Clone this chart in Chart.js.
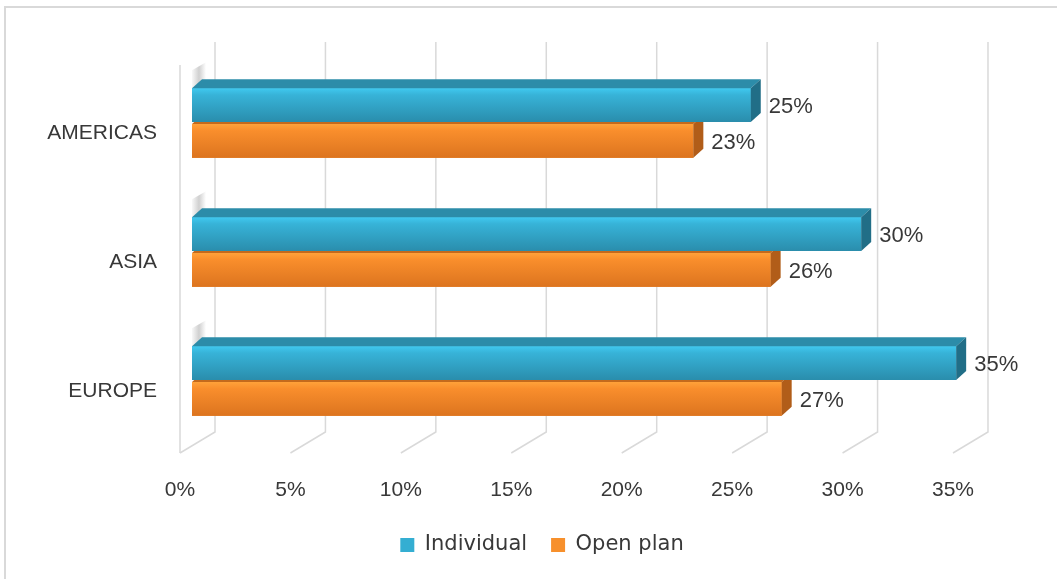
<!DOCTYPE html>
<html>
<head>
<meta charset="utf-8">
<script src="https://cdn.jsdelivr.net/npm/chart.js@4/dist/chart.umd.min.js"></script>
<style>
  html, body { margin: 0; padding: 0; background: #fff; }
  #wrap { width: 1057px; height: 579px; }
</style>
</head>
<body>
<div id="wrap"><canvas id="barChart" width="1057" height="579"></canvas></div>
<script>
const regions = ['AMERICAS', 'ASIA', 'EUROPE'];
const individual = [0.253, 0.303, 0.346];
const openPlan = [0.227, 0.262, 0.267];
const seriesNames = ['Individual', 'Open plan'];
const xTicks = [0, 0.05, 0.1, 0.15, 0.2, 0.25, 0.3, 0.35];

const textColor = '#383838';
const faces = [
  { front: ['#40c9f0', '#37b3d8', '#2a8dac'], top: '#2c8ca9', side: '#216e87' },
  { front: ['#ffa23a', '#f98e2c', '#dc741f'], top: '#c46a1c', side: '#b15d19' }
];

// back wall, floor and left wall lines of the 3d frame
const frame3d = {
  id: 'frame3d',
  beforeDraw(chart) {
    const c = chart.ctx;
    const area = chart.chartArea;
    const x = chart.scales.x;
    c.save();
    c.fillStyle = '#fff';
    c.fillRect(0, 0, chart.width, chart.height);
    c.strokeStyle = '#d9d9d9';
    c.lineWidth = 2;
    c.beginPath();
    c.moveTo(5, 579); c.lineTo(5, 7); c.lineTo(1057, 7);
    c.stroke();

    c.lineWidth = 1.5;
    const backTop = area.top - 16.5, backBottom = area.bottom - 13.5, front = area.bottom + 7.5;
    xTicks.forEach(v => {
      const px = x.getPixelForValue(v);
      c.beginPath();
      c.moveTo(px + 23, backTop);
      c.lineTo(px + 23, backBottom);
      c.lineTo(px - 12, front);
      c.stroke();
    });
    const p0 = x.getPixelForValue(0) - 12;
    c.beginPath();
    c.moveTo(p0, area.top + 6.5);
    c.lineTo(p0, front);
    c.stroke();
    c.restore();
  },
  afterDatasetsDraw(chart) {
    const c = chart.ctx;
    const dx = 10, dy = -9;
    c.save();
    [1, 0].forEach(di => {
      const meta = chart.getDatasetMeta(di);
      const f = faces[di];
      meta.data.forEach((bar, i) => {
        const { x, y, base, height } = bar.getProps(['x', 'y', 'base', 'height'], true);
        const top = y - height / 2, bottom = y + height / 2;
        // soft shadow on the left wall
        if (di === 0) {
          const sg = c.createLinearGradient(base, 0, base + 14, 0);
          sg.addColorStop(0, 'rgba(120,120,120,0.05)');
          sg.addColorStop(0.5, 'rgba(120,120,120,0.35)');
          sg.addColorStop(1, 'rgba(120,120,120,0)');
          c.fillStyle = sg;
          c.beginPath();
          c.moveTo(base, top); c.lineTo(base, top - 18);
          c.lineTo(base + 14, top - 26); c.lineTo(base + 14, top - 8);
          c.closePath(); c.fill();
        }
        // front
        const g = c.createLinearGradient(0, top, 0, bottom);
        g.addColorStop(0, f.front[0]);
        g.addColorStop(0.2, f.front[1]);
        g.addColorStop(1, f.front[2]);
        c.fillStyle = g;
        c.fillRect(base, top, x - base, height);
        // top face
        c.fillStyle = f.top;
        c.beginPath();
        c.moveTo(base, top); c.lineTo(base + dx, top + dy);
        c.lineTo(x + dx, top + dy); c.lineTo(x, top);
        c.closePath(); c.fill();
        // side face
        c.fillStyle = f.side;
        c.beginPath();
        c.moveTo(x, top); c.lineTo(x + dx, top + dy);
        c.lineTo(x + dx, bottom + dy); c.lineTo(x, bottom);
        c.closePath(); c.fill();
        // value label
        const v = chart.data.datasets[di].data[i];
        c.fillStyle = textColor;
        c.font = '22px "Liberation Sans", Arial, sans-serif';
        c.textAlign = 'left';
        c.textBaseline = 'middle';
        c.fillText(Math.round(v * 100) + '%', x + 18, y + 2);
      });
    });
    c.restore();
  }
};

new Chart(document.getElementById('barChart'), {
  type: 'bar',
  data: {
    labels: regions,
    datasets: [
      { label: seriesNames[0], data: individual, backgroundColor: '#34aed2', borderWidth: 0 },
      { label: seriesNames[1], data: openPlan, backgroundColor: '#f7902c', borderWidth: 0 }
    ]
  },
  options: {
    indexAxis: 'y',
    responsive: false,
    animation: false,
    categoryPercentage: 0.556,
    barPercentage: 0.944,
    layout: { padding: { top: 58.5, right: 0, bottom: 13.5, left: 27 } },
    scales: {
      x: {
        min: 0,
        max: 0.39166,
        afterFit(scale) { scale.height = 65; },
        afterBuildTicks(scale) { scale.ticks = xTicks.map(v => ({ value: v })); },
        grid: { display: false, drawTicks: false },
        border: { display: false },
        ticks: {
          padding: 32,
          labelOffset: -12,
          color: textColor,
          font: { family: '"Liberation Sans", Arial, sans-serif', size: 21 },
          callback: v => Math.round(v * 100) + '%'
        }
      },
      y: {
        afterFit(scale) { scale.width = 165; },
        grid: { display: false, drawTicks: false },
        border: { display: false },
        ticks: {
          padding: 35,
          labelOffset: 10.5,
          color: textColor,
          font: { family: '"Liberation Sans", Arial, sans-serif', size: 21 }
        }
      }
    },
    plugins: {
      legend: {
        position: 'bottom',
        labels: {
          boxWidth: 14,
          boxHeight: 14,
          padding: 24,
          color: textColor,
          font: { family: '"DejaVu Sans", sans-serif', size: 21 }
        }
      },
      tooltip: { enabled: false }
    }
  },
  plugins: [frame3d]
});
</script>
</body>
</html>
